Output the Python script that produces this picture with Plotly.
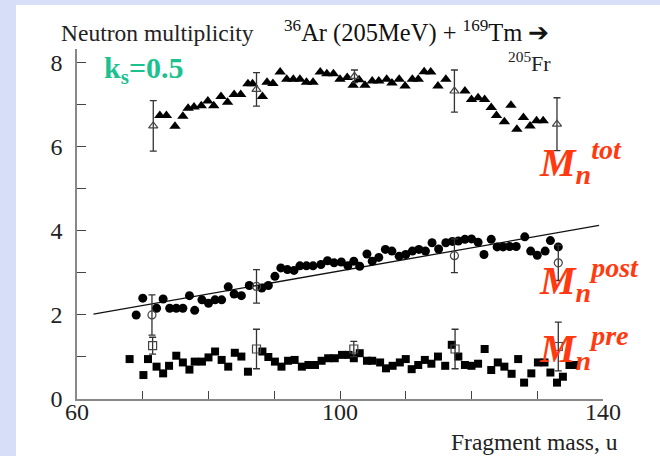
import plotly.graph_objects as go

# ---- data ----
tot_x = [72.6, 73.6, 74.9, 76.1, 76.9, 77.8, 78.9, 79.9, 80.8, 81.9, 82.9, 83.9, 84.9, 86.0, 86.7,
         88.2, 88.9, 89.8, 90.9, 91.9, 92.9, 93.9, 94.9, 95.9, 97.0, 98.0, 99.0, 100.0, 101.1, 102.0,
         102.9, 103.8, 104.9, 105.9, 107.1, 107.9, 109.0, 109.9, 111.0, 111.9, 112.8, 113.8, 114.9,
         116.1, 119.0, 120.0, 121.0, 122.0, 123.0, 123.8, 125.0, 126.0, 126.9, 127.9, 128.9, 129.9, 130.9]
tot_y = [6.75, 6.75, 6.49, 6.73, 6.92, 6.95, 6.98, 7.09, 6.98, 7.20, 7.06, 7.25, 7.25, 7.50, 7.50,
         7.20, 7.54, 7.51, 7.78, 7.61, 7.61, 7.61, 7.54, 7.54, 7.78, 7.74, 7.74, 7.61, 7.65, 7.47,
         7.60, 7.47, 7.57, 7.57, 7.61, 7.52, 7.61, 7.45, 7.61, 7.61, 7.79, 7.78, 7.45,
         7.61, 7.33, 7.13, 7.17, 7.13, 6.94, 6.75, 6.60, 6.99, 6.42, 6.70, 6.50, 6.62, 6.62]

post_x = [69.0, 70.0, 72.1, 73.1, 74.1, 75.1, 76.1, 77.1, 77.9, 79.0, 80.0, 81.0, 82.0, 83.0, 83.9,
          85.0, 86.2, 88.1, 89.1, 90.1, 91.0, 92.0, 93.0, 93.9, 94.9, 95.9, 97.1, 98.1, 99.1, 100.2,
          101.2, 102.1, 103.0, 104.1, 104.9, 105.9, 106.9, 107.9, 109.0, 110.0, 111.0, 112.0, 113.0,
          114.0, 115.0, 116.1, 117.1, 118.0, 119.0, 120.0, 121.0, 121.9, 123.0, 123.9, 124.8, 125.8,
          126.8, 128.1, 129.0, 130.0, 131.2, 132.0, 133.2]
post_y = [2.00, 2.40, 2.16, 2.38, 2.16, 2.16, 2.16, 2.46, 2.11, 2.36, 2.28, 2.36, 2.36, 2.67, 2.50,
          2.46, 2.70, 2.64, 2.70, 2.92, 3.12, 3.08, 3.06, 3.17, 3.17, 3.17, 3.20, 3.29, 3.24, 3.26,
          3.17, 3.28, 3.16, 3.45, 3.28, 3.37, 3.56, 3.52, 3.40, 3.44, 3.52, 3.56, 3.52,
          3.72, 3.57, 3.72, 3.75, 3.76, 3.80, 3.81, 3.73, 3.44, 3.80, 3.62, 3.62, 3.63,
          3.63, 3.86, 3.52, 3.42, 3.52, 3.77, 3.62]

pre_x = [68.0, 70.1, 70.8, 72.1, 73.1, 74.0, 75.1, 76.1, 77.1, 77.9, 79.0, 80.0, 81.0, 82.0, 83.0,
         84.0, 85.0, 86.0, 88.2, 89.1, 90.1, 91.1, 92.1, 93.1, 94.2, 95.2, 96.2, 97.2, 98.2, 99.2,
         100.3, 101.3, 102.1, 103.0, 104.1, 104.9, 106.1, 107.0, 108.0, 109.1, 110.0, 110.9, 111.9,
         112.9, 113.9, 114.9, 116.0, 117.0, 118.0, 119.0, 120.0, 121.0, 122.0, 123.0, 124.0, 125.0,
         126.1, 127.1, 128.0, 129.1, 130.1, 131.1, 132.0, 133.0, 133.9, 134.9, 135.9]
pre_y = [0.95, 0.57, 0.95, 0.77, 0.61, 0.79, 1.03, 0.87, 0.70, 0.89, 0.89, 0.99, 1.13, 0.93, 0.77,
         1.10, 1.01, 0.65, 1.13, 1.00, 0.89, 0.77, 0.91, 0.93, 0.77, 0.81, 0.81, 0.91, 0.97, 0.97,
         1.05, 1.05, 0.97, 1.09, 0.91, 0.91, 0.87, 0.73, 0.79, 0.87, 0.95, 0.71, 0.81,
         0.93, 0.84, 1.01, 0.79, 1.29, 1.01, 0.81, 0.79, 0.84, 1.19, 0.69, 0.87, 0.77,
         0.60, 0.95, 0.39, 0.61, 0.87, 0.87, 0.63, 0.39, 0.53, 0.81, 0.81]

tot_open_x = [71.6, 87.3, 102.2, 117.4, 133.0]
tot_open_y = [6.50, 7.37, 7.68, 7.33, 6.54]
tot_open_err = [0.60, 0.40, 0.15, 0.50, 0.63]

post_open_x = [71.4, 87.3, 117.4, 133.2]
post_open_y = [2.00, 2.68, 3.41, 3.24]
post_open_err = [0.48, 0.40, 0.40, 0.42]

pre_open_x = [71.5, 87.3, 102.1, 117.5, 133.2]
pre_open_y = [1.27, 1.19, 1.19, 1.19, 1.25]
pre_open_err = [0.20, 0.47, 0.18, 0.47, 0.58]

fit_x = [62.5, 139.4]
fit_y = [2.02, 4.13]

x_ticks = [60, 70, 80, 90, 100, 110, 120, 130, 140]
x_labels = ["60", "", "", "", "100", "", "", "", "140"]
y_ticks = [0, 1, 2, 3, 4, 5, 6, 7, 8]
y_labels = ["0", "", "2", "", "4", "", "6", "", "8"]

XR = [60, 140]
YR = [0, 8.33]
SERIF = "Liberation Serif"
RED = "#FF3A10"


def px(x):
    return (x - XR[0]) / (XR[1] - XR[0])


def py(y):
    return (y - YR[0]) / (YR[1] - YR[0])


fig = go.Figure()

fig.add_trace(go.Scatter(x=fit_x, y=fit_y, mode="lines",
                         line=dict(color="#111", width=1.3), hoverinfo="skip"))

err_style = dict(type="data", color="#333", thickness=1.3, width=3.5)

for xs, ys, sym in [(tot_x, tot_y, "triangle-up"), (post_x, post_y, "circle"), (pre_x, pre_y, "square")]:
    size = {"triangle-up": 10, "circle": 9, "square": 8}[sym]
    fig.add_trace(go.Scatter(x=xs, y=ys, mode="markers",
                             marker=dict(symbol=sym, size=size, color="black", line=dict(width=0))))

for xs, ys, es, sym in [(tot_open_x, tot_open_y, tot_open_err, "triangle-up-open"),
                        (post_open_x, post_open_y, post_open_err, "circle-open"),
                        (pre_open_x, pre_open_y, pre_open_err, "square-open")]:
    fig.add_trace(go.Scatter(x=xs, y=ys, mode="markers",
                             error_y=dict(array=es, **err_style),
                             marker=dict(symbol=sym, size=8, color="#444", line=dict(width=1.2, color="#444"))))

annots = [
    dict(x=57.2, y=8.72, text="Neutron multiplicity", xanchor="left",
         font=dict(family=SERIF, size=23.5, color="#222")),
    dict(x=91.2, y=8.75,
         text="<sup>36</sup>Ar (205MeV) + <sup>169</sup>Tm ➔",
         xanchor="left", font=dict(family=SERIF, size=24.5, color="#111")),
    dict(x=125.2, y=8.02, text="<sup>205</sup>Fr", xanchor="left",
         font=dict(family=SERIF, size=22, color="#222")),
    dict(x=63.8, y=7.83, text="<b>k<sub>s</sub>=0.5</b>", xanchor="left",
         font=dict(family=SERIF, size=30, color="#1CC18F")),
    dict(x=142.6, y=-1.02, text="Fragment mass, u", xanchor="right",
         font=dict(family=SERIF, size=23.5, color="#222")),
    dict(x=130.0, y=5.64, text="<b><i>M<sub>n</sub><sup>tot</sup></i></b>", xanchor="left",
         font=dict(family=SERIF, size=40, color=RED)),
    dict(x=130.0, y=2.83, text="<b><i>M<sub>n</sub><sup>post</sup></i></b>", xanchor="left",
         font=dict(family=SERIF, size=40, color=RED)),
    dict(x=130.0, y=1.21, text="<b><i>M<sub>n</sub><sup>pre</sup></i></b>", xanchor="left",
         font=dict(family=SERIF, size=40, color=RED)),
]
for a in annots:
    a["x"] = px(a["x"])
    a["y"] = py(a["y"])
    a.update(xref="paper", yref="paper", showarrow=False, yanchor="middle")

fig.update_layout(
    width=660, height=456,
    margin=dict(l=77, r=57, t=49, b=57),
    paper_bgcolor="#D6DEF8", plot_bgcolor="white",
    showlegend=False,
    font=dict(family=SERIF),
    annotations=annots,
    shapes=[dict(type="rect", xref="paper", yref="paper",
                 x0=(16 - 77) / 526, x1=(662 - 77) / 526,
                 y0=(399 - 458) / 350, y1=(399 - 5) / 350,
                 fillcolor="white", line=dict(width=0), layer="below")],
    xaxis=dict(range=XR, tickvals=x_ticks, ticktext=x_labels, ticks="inside", ticklen=8,
               tickcolor="#444", tickwidth=1.3, showline=True, linecolor="#888", linewidth=1.5,
               showgrid=False, zeroline=False, ticklabelstandoff=-10,
               tickfont=dict(family=SERIF, size=24, color="#222")),
    yaxis=dict(range=YR, tickvals=y_ticks, ticktext=y_labels, ticks="inside", ticklen=9,
               tickcolor="#444", tickwidth=1.3, showline=True, linecolor="#888", linewidth=1.5,
               showgrid=False, zeroline=False, ticklabelstandoff=8,
               tickfont=dict(family=SERIF, size=24, color="#222")),
)

fig.write_html("out.html")
